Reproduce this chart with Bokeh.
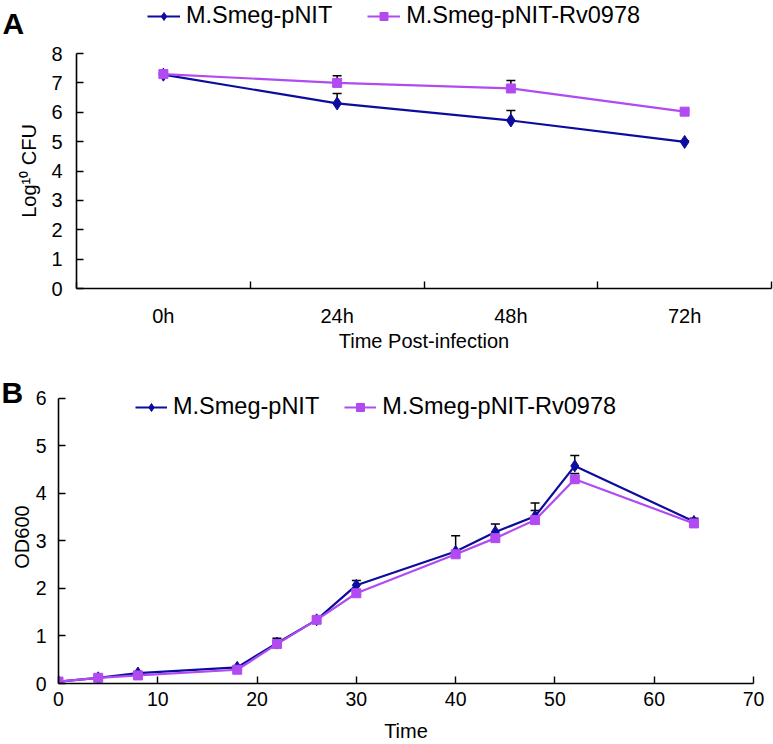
import numpy as np
from bokeh.plotting import figure
from bokeh.models import (ColumnDataSource, Whisker, TeeHead, Legend, LegendItem,
                          FixedTicker, Range1d, Label)
from bokeh.embed import file_html
from bokeh.resources import INLINE

# ---------------- data ----------------
# Panel A: survival after infection
categories = ["0h", "24h", "48h", "72h"]
a_pnit = [7.28, 6.30, 5.72, 4.99]
a_pnit_err = [0.04, 0.34, 0.34, 0.03]
a_rv = [7.30, 7.00, 6.81, 6.02]
a_rv_err = [0.04, 0.24, 0.27, 0.04]

# Panel B: growth curve
b_time = [0, 4, 8, 18, 22, 26, 30, 40, 44, 48, 52, 64]
b_pnit = [0.04, 0.12, 0.22, 0.34, 0.85, 1.34, 2.07, 2.78, 3.19, 3.52, 4.58, 3.41]
b_pnit_err = [0.02, 0.02, 0.03, 0.03, 0.10, 0.04, 0.10, 0.33, 0.17, 0.28, 0.22, 0.07]
b_rv = [0.04, 0.12, 0.17, 0.29, 0.83, 1.34, 1.90, 2.72, 3.06, 3.44, 4.30, 3.37]
b_rv_err = [0.02, 0.02, 0.02, 0.02, 0.03, 0.03, 0.03, 0.05, 0.05, 0.20, 0.12, 0.05]

series_names = ["M.Smeg-pNIT", "M.Smeg-pNIT-Rv0978"]
y_ticks_a = [0, 1, 2, 3, 4, 5, 6, 7, 8]
y_ticks_b = [0, 1, 2, 3, 4, 5, 6]
x_ticks_b = [0, 10, 20, 30, 40, 50, 60, 70]

BLUE = "#0c0c9e"
PINK = "#b24af2"
FONT = "Liberation Sans"


def style_axes(p, tick_size="20px"):
    for ax in (p.xaxis[0], p.yaxis[0]):
        ax.axis_line_color = "black"
        ax.axis_line_width = 1.6
        ax.major_tick_line_color = "black"
        ax.major_tick_line_width = 1.4
        ax.major_tick_in = 7
        ax.major_tick_out = 0
        ax.minor_tick_line_color = None
        ax.major_label_text_font = FONT
        ax.major_label_text_font_size = tick_size
        ax.major_label_text_color = "black"
        ax.axis_label_text_font = FONT
        ax.axis_label_text_font_size = "20px"
        ax.axis_label_text_font_style = "normal"
        ax.axis_label_text_color = "black"
    p.xgrid.visible = False
    p.ygrid.visible = False
    p.outline_line_color = None


def add_series(p, x, y, err, color, marker, size, bars=True):
    src = ColumnDataSource(dict(x=x, y=y, upper=list(np.array(y) + np.array(err))))
    if bars:
        w = Whisker(source=src, base="x", lower="y", upper="upper", dimension="height",
                    line_color="black", line_width=1.5,
                    upper_head=TeeHead(size=9, line_color="black", line_width=1.5),
                    lower_head=None)
        p.add_layout(w)
    lr = p.line("x", "y", source=src, line_color=color, line_width=2.2)
    mr = p.scatter("x", "y", source=src, marker=marker, size=size,
                   fill_color=color, line_color=color)
    return [lr, mr]


def make_legend(items, loc, spacing, glyph_w):
    return Legend(items=[LegendItem(label=n, renderers=r) for n, r in items],
                  orientation="horizontal", location=loc, padding=0, margin=0,
                  spacing=spacing, glyph_width=glyph_w, glyph_height=20, label_height=20,
                  label_standoff=6, label_text_font=FONT, label_text_font_size="23.5px",
                  label_text_color="black", border_line_alpha=0, background_fill_alpha=0)


xa = [i + 0.5 for i in range(len(categories))]

# ---------------- Panel A header: panel letter + legend ----------------
# the header's ranges lie away from the data, so its series only feed the legend keys
ha = figure(width=773, height=41, output_backend="svg", toolbar_location=None,
            x_range=Range1d(100, 200), y_range=Range1d(100, 200),
            x_axis_type=None, y_axis_type=None,
            min_border_left=0, min_border_right=0, min_border_top=0, min_border_bottom=0)
ha.xgrid.visible = False
ha.ygrid.visible = False
ha.outline_line_color = None
hr1 = add_series(ha, xa, a_pnit, a_pnit_err, BLUE, "diamond", 13, bars=False)
hr2 = add_series(ha, xa, a_rv, a_rv_err, PINK, "square", 9, bars=False)
ha.add_layout(make_legend([(series_names[0], hr1), (series_names[1], hr2)], (147, 12), 35, 33))
ha.add_layout(Label(x=2, y=18.5, x_units="screen", y_units="screen", text="A",
                    text_font=FONT, text_font_size="30px", text_font_style="bold",
                    text_color="black", text_baseline="middle"))

# ---------------- Panel A ----------------
pa = figure(width=773, height=329, output_backend="svg", toolbar_location=None,
            x_range=Range1d(0, 4), y_range=Range1d(0, 8),
            min_border_left=76, min_border_right=2, min_border_top=12, min_border_bottom=82)
style_axes(pa)
pa.xaxis.ticker = FixedTicker(ticks=xa, minor_ticks=list(range(len(categories) + 1)))
pa.xaxis.major_label_overrides = {v: c for v, c in zip(xa, categories)}
pa.xaxis.major_tick_in = 0
pa.xaxis.minor_tick_line_color = "black"
pa.xaxis.minor_tick_line_width = 1.4
pa.xaxis.minor_tick_in = 7
pa.xaxis.minor_tick_out = 0
pa.xaxis.major_label_standoff = 16
pa.xaxis.axis_label = "Time Post-infection"
pa.xaxis.axis_label_standoff = 0
pa.yaxis.ticker = FixedTicker(ticks=y_ticks_a)
pa.yaxis.major_label_standoff = 14
pa.yaxis.axis_label = "Log\u00b9\u2070 CFU"
pa.yaxis.axis_label_standoff = 8

add_series(pa, xa, a_pnit, a_pnit_err, BLUE, "diamond", 13)
add_series(pa, xa, a_rv, a_rv_err, PINK, "square", 9)

# ---------------- Panel B ----------------
# frame reaches a little above 6 so the legend stays inside it; the axis line stops at 6
pb = figure(width=773, height=374, output_backend="svg", toolbar_location=None,
            x_range=Range1d(0, 70), y_range=Range1d(0, 6.168),
            min_border_left=58, min_border_right=20, min_border_top=20, min_border_bottom=61)
style_axes(pb, tick_size="19.5px")
pb.title.text = "B"
pb.title.align = "left"
pb.title.offset = -57
pb.title.standoff = -36
pb.title.text_font = FONT
pb.title.text_font_size = "30px"
pb.title.text_font_style = "bold"
pb.title.text_color = "black"
pb.xaxis.ticker = FixedTicker(ticks=x_ticks_b)
pb.xaxis.major_label_standoff = 8
pb.xaxis.axis_label = "Time"
pb.xaxis.axis_label_standoff = 11
pb.yaxis.ticker = FixedTicker(ticks=y_ticks_b)
pb.yaxis.bounds = (y_ticks_b[0], y_ticks_b[-1])
pb.yaxis.major_label_standoff = 12
pb.yaxis.axis_label = "OD600"
pb.yaxis.axis_label_standoff = 0

rb1 = add_series(pb, b_time, b_pnit, b_pnit_err, BLUE, "diamond", 12)
rb2 = add_series(pb, b_time, b_rv, b_rv_err, PINK, "square", 9)
pb.add_layout(make_legend([(series_names[0], rb1), (series_names[1], rb2)], (77, 263), 25, 32))

open("out.html", "w").write(file_html([ha, pa, pb], INLINE))
